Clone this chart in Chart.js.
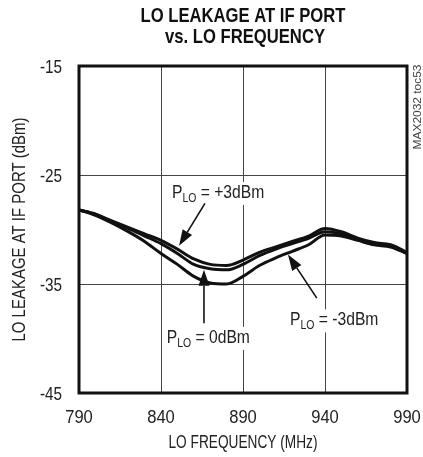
<!DOCTYPE html>
<html>
<head>
<meta charset="utf-8">
<script src="https://cdn.jsdelivr.net/npm/chart.js@4"></script>
<style>
  html, body { margin: 0; padding: 0; background: #fff; }
  canvas { display: block; }
</style>
</head>
<body>
<canvas id="leak" width="423" height="457"></canvas>
<script>
// LO leakage at IF port vs. LO frequency, three LO drive levels
const freqs = [790, 800, 810, 820, 830, 840, 850, 860, 870, 880, 890, 900, 910, 920, 930, 940, 950, 960, 970, 980, 990];
const leakP3 = [-28.2, -28.6, -29.2, -29.8, -30.4, -31.0, -31.8, -32.7, -33.2, -33.3, -32.8, -32.1, -31.6, -31.1, -30.6, -29.9, -30.2, -30.8, -31.2, -31.4, -32.1];
const leakP0 = [-28.2, -28.6, -29.3, -29.9, -30.6, -31.3, -32.2, -33.2, -33.6, -33.7, -33.2, -32.4, -31.8, -31.3, -30.8, -30.2, -30.4, -30.9, -31.3, -31.5, -32.2];
const leakM3 = [-28.2, -28.7, -29.4, -30.2, -31.1, -32.2, -33.2, -34.3, -34.9, -35.0, -34.3, -33.3, -32.6, -32.0, -31.4, -30.5, -30.6, -31.0, -31.4, -31.6, -32.2];
const xTicks = [790, 840, 890, 940, 990];
const yTicks = [-45, -35, -25, -15];
const curveLabels = ['+3dBm', '0dBm', '-3dBm'];
const titleLines = ['LO LEAKAGE AT IF PORT', 'vs. LO FREQUENCY'];
const xTitle = 'LO FREQUENCY (MHz)';
const yTitle = 'LO LEAKAGE AT IF PORT (dBm)';
const tag = 'MAX2032 toc53';

const FONT = "'Liberation Sans', Arial, sans-serif";

function pts(ys) {
  return freqs.map((f, i) => ({ x: f, y: ys[i] }));
}

// callouts in data units: text left edge + baseline, arrow start, arrow tip
const callouts = [
  { text: curveLabels[0], lx: 846.7, by: -27.1, from: [866.8, -27.6], to: [851, -31.5] },
  { text: curveLabels[1], lx: 843.5, by: -40.4, from: [866.2, -38.6], to: [866.2, -33.7] },
  { text: curveLabels[2], lx: 918.7, by: -38.8, from: [935, -36.3], to: [917.4, -32.3] }
];

// narrow-looking text: draw with horizontal squeeze (sx) or fit to a width
function txt(ctx, s, x, y, o) {
  ctx.save();
  ctx.font = (o.weight || 'normal') + ' ' + o.size + 'px ' + FONT;
  const w = ctx.measureText(s).width;
  const k = o.width ? o.width / w : (o.sx || 1);
  ctx.translate(x, y);
  if (o.rot) ctx.rotate(o.rot);
  ctx.scale(k, 1);
  ctx.fillStyle = o.color || '#222';
  ctx.textAlign = o.align || 'left';
  ctx.textBaseline = 'alphabetic';
  ctx.fillText(s, 0, 0);
  ctx.restore();
  return w * k;
}

function arrow(ctx, x1, y1, x2, y2) {
  const a = Math.atan2(y2 - y1, x2 - x1);
  const len = 16, half = 5.5;
  const bx = x2 - len * Math.cos(a), by = y2 - len * Math.sin(a);
  ctx.beginPath();
  ctx.moveTo(x1, y1);
  ctx.lineTo(bx, by);
  ctx.lineWidth = 1.6;
  ctx.strokeStyle = '#111';
  ctx.stroke();
  ctx.beginPath();
  ctx.moveTo(x2, y2);
  ctx.lineTo(bx + half * Math.sin(a), by - half * Math.cos(a));
  ctx.lineTo(bx - half * Math.sin(a), by + half * Math.cos(a));
  ctx.closePath();
  ctx.fillStyle = '#111';
  ctx.fill();
}

const decor = {
  id: 'decor',
  afterDatasetsDraw(chart) {
    const { ctx, chartArea: ca, scales: { x, y } } = chart;
    ctx.save();
    const sq = 0.87;
    callouts.forEach(c => {
      const left = x.getPixelForValue(c.lx), base = y.getPixelForValue(c.by);
      ctx.font = '18px ' + FONT;
      const wP = ctx.measureText('P').width * sq;
      const wR = ctx.measureText(' = ' + c.text).width * sq;
      ctx.font = '12px ' + FONT;
      const wS = ctx.measureText('LO').width * sq;
      ctx.fillStyle = '#fff';
      ctx.fillRect(left - 2, base - 16, wP + wS + wR + 4, 23);
      let cx = left;
      cx += txt(ctx, 'P', cx, base, { size: 18, sx: sq });
      cx += txt(ctx, 'LO', cx, base + 4, { size: 12, sx: sq });
      txt(ctx, ' = ' + c.text, cx, base, { size: 18, sx: sq });
      arrow(ctx, x.getPixelForValue(c.from[0]), y.getPixelForValue(c.from[1]),
        x.getPixelForValue(c.to[0]), y.getPixelForValue(c.to[1]));
    });
    // plot frame
    ctx.lineWidth = 3;
    ctx.strokeStyle = '#111';
    ctx.strokeRect(ca.left, ca.top, ca.right - ca.left, ca.bottom - ca.top);
    ctx.restore();
  },
  afterDraw(chart) {
    const { ctx, chartArea: ca, scales: { x, y } } = chart;
    const mid = (ca.left + ca.right) / 2;
    // title
    txt(ctx, titleLines[0], mid, 22, { size: 21, weight: 'bold', width: 205, align: 'center', color: '#111' });
    txt(ctx, titleLines[1], mid + 2, 43, { size: 21, weight: 'bold', width: 160, align: 'center', color: '#111' });
    // ticks
    xTicks.forEach(v => {
      txt(ctx, String(v), x.getPixelForValue(v), ca.bottom + 30, { size: 18, sx: 0.92, align: 'center' });
    });
    yTicks.forEach(v => {
      txt(ctx, String(v), ca.left - 17, y.getPixelForValue(v) + 7, { size: 18, sx: 0.85, align: 'right' });
    });
    // axis titles
    txt(ctx, xTitle, mid, 448, { size: 18, width: 149, align: 'center' });
    txt(ctx, yTitle, 25, (ca.top + ca.bottom) / 2, { size: 18, width: 224, align: 'center', rot: -Math.PI / 2 });
    // figure tag
    txt(ctx, tag, 421, 107, { size: 11, width: 85, align: 'center', rot: -Math.PI / 2, color: '#444' });
  }
};

const lineStyle = {
  borderColor: '#111',
  borderWidth: 3,
  pointRadius: 0,
  fill: false,
  tension: 0.4,
  cubicInterpolationMode: 'monotone'
};

new Chart(document.getElementById('leak'), {
  type: 'line',
  data: {
    datasets: [
      Object.assign({ label: 'PLO = ' + curveLabels[0], data: pts(leakP3) }, lineStyle),
      Object.assign({ label: 'PLO = ' + curveLabels[1], data: pts(leakP0) }, lineStyle),
      Object.assign({ label: 'PLO = ' + curveLabels[2], data: pts(leakM3) }, lineStyle)
    ]
  },
  options: {
    responsive: false,
    animation: false,
    layout: { padding: { left: 0, right: 16, top: 66, bottom: 0 } },
    plugins: {
      legend: { display: false },
      tooltip: { enabled: false },
      title: { display: false }
    },
    scales: {
      x: {
        type: 'linear',
        min: 790,
        max: 990,
        afterBuildTicks: s => { s.ticks = xTicks.map(v => ({ value: v })); },
        afterFit: s => { s.height = 64; },
        grid: { color: '#444', lineWidth: 1, drawTicks: false },
        border: { display: false },
        ticks: { display: false }
      },
      y: {
        min: -45,
        max: -15,
        afterBuildTicks: s => { s.ticks = yTicks.map(v => ({ value: v })); },
        afterFit: s => { s.width = 79; },
        grid: { color: '#444', lineWidth: 1, drawTicks: false },
        border: { display: false },
        ticks: { display: false }
      }
    }
  },
  plugins: [decor]
});
</script>
</body>
</html>
